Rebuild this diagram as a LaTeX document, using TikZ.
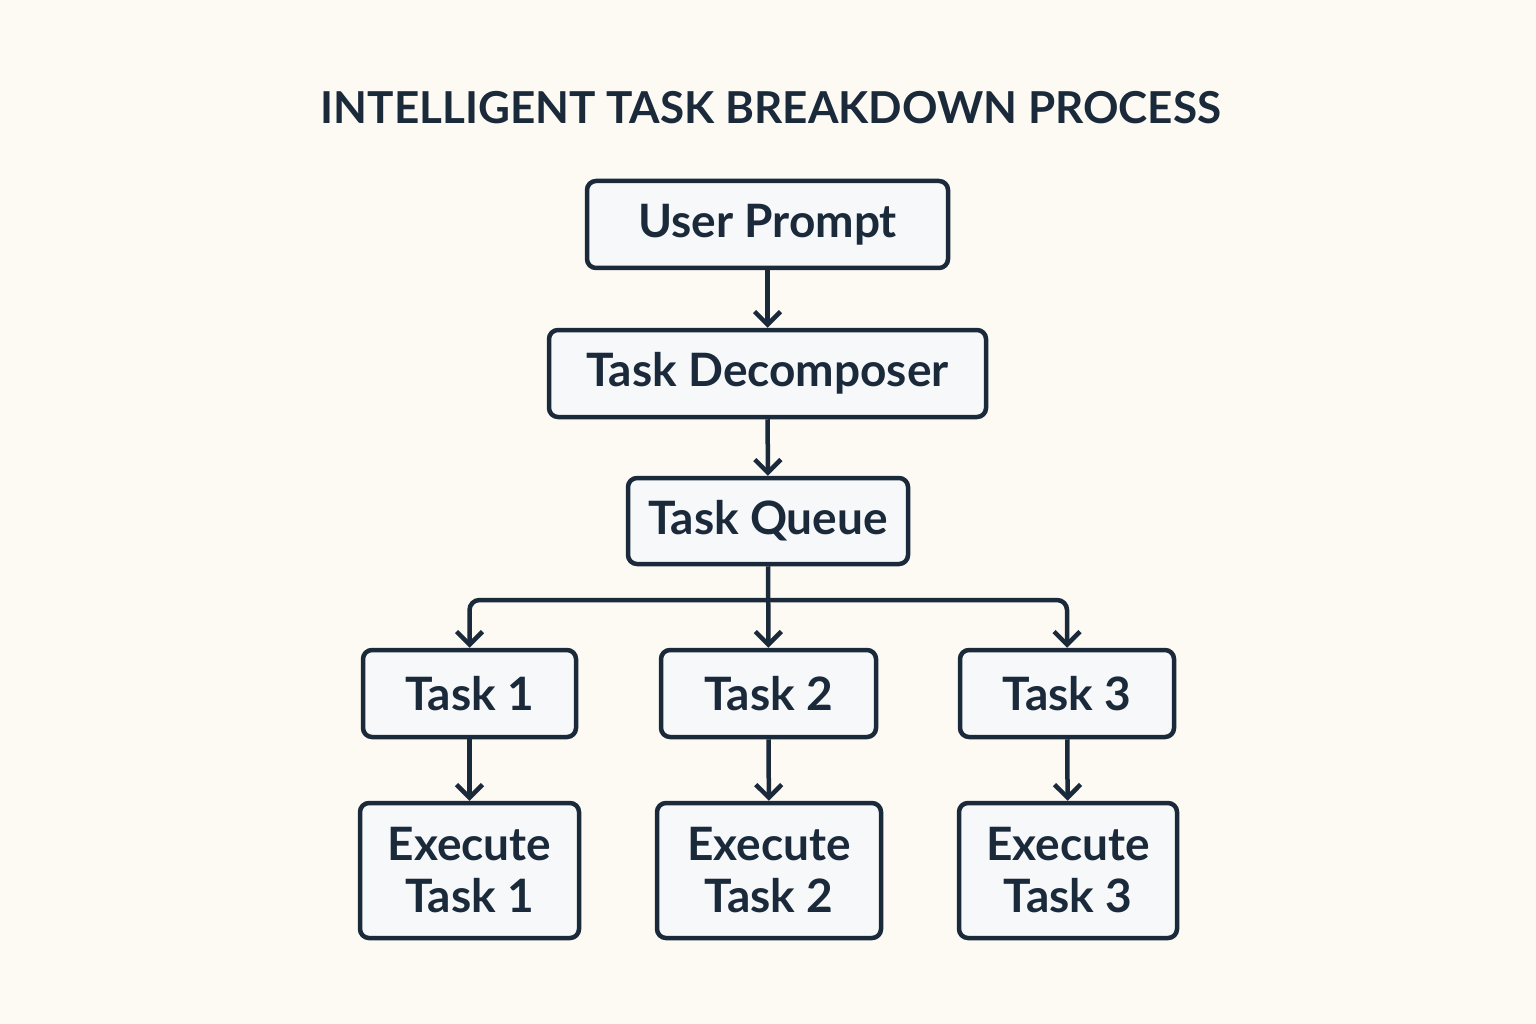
\documentclass[tikz,border=0pt]{standalone}
\usepackage{fontspec}
\setmainfont{Lato}
\usetikzlibrary{arrows.meta}
\definecolor{ink}{HTML}{1B2A3A}
\definecolor{boxfill}{HTML}{F6F8F9}
\definecolor{bg}{HTML}{FDFAF4}
\begin{document}
\begin{tikzpicture}[x=1pt,y=-1pt,
  box/.style={draw=ink, fill=boxfill, line width=4.5pt, rounded corners=9pt, inner sep=0pt, align=center, text=ink, font=\fontsize{46}{52}\selectfont\bfseries},
  conn/.style={draw=ink, line width=4.5pt, -{Straight Barb[length=13pt,width=26pt,line width=4.5pt]}}]
\fill[bg] (0,0) rectangle (1536,1024);
\useasboundingbox (0,0) rectangle (1536,1024);
\node[text=ink, font=\fontsize{44}{50}\selectfont\bfseries] (title) at (771,108) {INTELLIGENT TASK BREAKDOWN PROCESS};
\node[box, minimum width=361pt, minimum height=87pt] (up) at (767.5,224.5) {User Prompt};
\node[box, minimum width=437pt, minimum height=87pt] (td) at (767.5,373.5) {Task Decomposer};
\node[box, minimum width=280pt, minimum height=86pt] (tq) at (768,521) {Task Queue};
\node[box, minimum width=213pt, minimum height=87pt] (t1) at (469.5,693.5) {Task 1};
\node[box, minimum width=215pt, minimum height=87pt] (t2) at (768.5,693.5) {Task 2};
\node[box, minimum width=214pt, minimum height=87pt] (t3) at (1067,693.5) {Task 3};
\node[box, minimum width=219pt, minimum height=135pt] (e1) at (469.5,870.5) {Execute\\Task 1};
\node[box, minimum width=224pt, minimum height=135pt] (e2) at (769,870.5) {Execute\\Task 2};
\node[box, minimum width=218pt, minimum height=135pt] (e3) at (1068,870.5) {Execute\\Task 3};
\coordinate (bar) at (768,600);
\draw[conn] (up) -- (td);
\draw[conn] (td) -- (tq);
\draw[conn] (tq) -- (t2);
\draw[conn, rounded corners=10pt] (bar) -| (t1.north);
\draw[conn, rounded corners=10pt] (bar) -| (t3.north);
\draw[conn] (t1) -- (e1);
\draw[conn] (t2) -- (e2);
\draw[conn] (t3) -- (e3);
\end{tikzpicture}
\end{document}
